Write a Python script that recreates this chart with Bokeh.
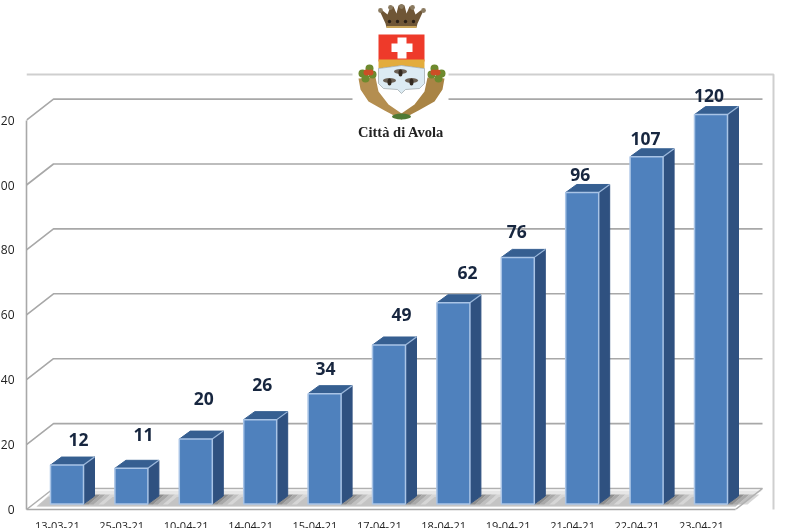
from bokeh.plotting import figure
from bokeh.models import Range1d, LinearAxis, FixedTicker
from bokeh.core.properties import value
from bokeh.embed import file_html
from bokeh.resources import INLINE

dates = ["13-03-21", "25-03-21", "10-04-21", "14-04-21", "15-04-21", "17-04-21",
         "18-04-21", "19-04-21", "21-04-21", "22-04-21", "23-04-21"]
cases = [12, 11, 20, 26, 34, 49, 62, 76, 96, 107, 120]
y_ticks = [0, 20, 40, 60, 80, 100, 120]

# per-label placement nudges, in pixels, as the source places them by hand
label_dx = [11.5, 12, 8, 2, 1, 12.5, 14, -1, -2, -1, -2]
label_dy = [25.6, 34, 40.6, 35, 25, 30.5, 30, 26, 18, 18, 19]

# pixel geometry of the page
AX_L, AX_B, W, H = 26, 510, 785, 528
PANEL_L, PANEL_B = 40, 30
PX_PER_UNIT = 3.245
STEP, X0, BAR_W = 64.4, 66.5, 33
BASE = 5.5          # bars stand this many pixels above the axis line
DX, DY = 11, 8      # bar depth
WX, WY = 27, 21     # wall depth
DATE_SHIFT = 0.15   # date labels sit a little left of their bars


def xd(px):
    return (px - X0) / STEP


def yd(px):
    return (AX_B - px) / PX_PER_UNIT


p = figure(frame_width=W - AX_L, frame_height=AX_B, output_backend="svg", toolbar_location=None,
           x_range=Range1d(xd(AX_L), xd(W)), y_range=Range1d(0, yd(0)),
           x_axis_type=None, y_axis_type=None,
           min_border_left=PANEL_L, min_border_right=0, min_border_top=0, min_border_bottom=PANEL_B,
           outline_line_color=None, background_fill_color="white", border_fill_color="white",
           styles={"position": "fixed", "left": "-14px", "top": "-1px"})
p.grid.visible = False
p.extra_x_ranges["px"] = Range1d(AX_L, W)
p.extra_y_ranges["py"] = Range1d(AX_B, 0)
PXK = dict(x_range_name="px", y_range_name="py")

# chart border
p.line([AX_L, 773, 773], [75, 75, 528], line_color="#cfcfcf", line_width=2, **PXK)

# floor
floor_xs = [AX_L + 10, AX_L + WX, 762, 735]
floor_ys = [507, 491, 491, 507]
p.patch(floor_xs, floor_ys, fill_color="#e6e6e6", line_color=None, **PXK)
p.patch([AX_L + 10, AX_L + 22, 747, 735], [507, 497, 497, 507], fill_color="#c4c4c4", line_color=None, **PXK)
for i in range(len(cases)):
    bx = X0 + STEP * i + BAR_W / 2
    for k, c in enumerate(["#8f8f8f", "#a8a8a8", "#c0c0c0", "#d6d6d6"]):
        p.patch([bx + 5 * k, bx + 5 * k + 5, bx + 5 * k + 17, bx + 5 * k + 12],
                [505, 505, 495, 495], fill_color=c, line_color=None, **PXK)
# floor outline
p.line([AX_L, AX_L + WX, 762, 735], [AX_B, AX_B - WY, AX_B - WY, AX_B],
       line_color="#b0b0b0", line_width=1.5, **PXK)

# back wall gridlines
for t in y_ticks[1:]:
    p.line([xd(AX_L), xd(AX_L + WX), xd(762)], [t, t + WY / PX_PER_UNIT, t + WY / PX_PER_UNIT],
           line_color="#a8a8a8", line_width=1.6)

# white panel behind the crest
p.quad(left=[352], right=[448], top=[0], bottom=[125], fill_color="white", line_color=None, **PXK)

# 3D bars
base = BASE / PX_PER_UNIT
half = BAR_W / 2 / STEP
ddx, ddy = DX / STEP, DY / PX_PER_UNIT
for i, v in enumerate(cases):
    top = v + base
    l, r = i - half, i + half
    p.patch([r, r + ddx, r + ddx, r], [base, base + ddy, top + ddy, top],
            fill_color="#2f5180", line_color="#2f5180")
    p.patch([l, r, r + ddx, l + ddx], [top, top, top + ddy, top + ddy],
            fill_color="#365f91", line_color="#365f91")
    p.line([r, r + ddx], [top, top + ddy], line_color="#9db9dc", line_width=1.2)
p.vbar(x=list(range(len(cases))), width=BAR_W / STEP, bottom=base, top=[v + base for v in cases],
       fill_color="#4f81bd", line_color="#a9c4e6", line_width=1.5)

# value labels
p.text(x=[i + dx / STEP for i, dx in enumerate(label_dx)],
       y=[v + base + dy / PX_PER_UNIT for v, dy in zip(cases, label_dy)],
       text=[str(v) for v in cases], text_align="center", text_baseline="middle",
       text_font=value("Open Sans"), text_font_style="bold", text_font_size="17.5px",
       text_color="#17263f")

# crest
SH = dict(line_color=None, **PXK)
p.patch([378, 424, 424, 401, 378], [35, 35, 62, 62, 62], fill_color="#ee3a2a", **SH)
p.patch([378, 424, 424, 401, 378], [60, 60, 69, 66, 69], fill_color="#e3ac3c", **SH)
p.patch([378, 401, 424, 424, 419, 405, 401, 397, 383, 378], [69, 66, 69, 84, 89, 90, 94, 90, 89, 84],
        fill_color="#dcebf3", line_color="#9aa4a8", line_width=0.7, **PXK)
p.quad(left=[397, 391], right=[406, 412], top=[38, 44], bottom=[59, 52.5], fill_color="white", **SH)
for bx, by in [(400, 72), (389, 81), (411, 81)]:
    p.ellipse([bx], [by], width=13, height=5, fill_color="#6a6054", **SH)
    p.ellipse([bx], [by + 1.5], width=4, height=7, fill_color="#332a20", **SH)
# crown
p.patch([385, 379, 382, 387, 390, 393, 396, 398, 401, 404, 406, 409, 412, 415, 420, 423, 417, 416, 386],
        [24, 11, 11, 15, 7, 7, 14, 6, 5, 6, 14, 7, 7, 15, 11, 11, 24, 28, 28], fill_color="#6f5636", **SH)
p.circle([380, 390, 401, 412, 423], [11, 8, 7, 8, 11], radius=2.4, fill_color="#8a7a60", **SH)
p.circle([389, 397, 405, 413], [22, 22, 22, 22], radius=1.7, fill_color="#2b2016", **SH)
p.line([386, 416], [27.5, 27.5], line_color="#c9a55a", line_width=2, **PXK)
# cornucopiae
p.patch([358, 375, 378, 388, 404, 401, 384, 368, 360],
        [79, 78, 92, 105, 116, 120, 111, 102, 90], fill_color="#b48e50", **SH)
p.patch([444, 427, 424, 414, 398, 401, 418, 434, 442],
        [79, 78, 92, 105, 116, 120, 111, 102, 90], fill_color="#a98445", **SH)
p.circle([362, 369, 372, 365], [74, 69, 75, 79], radius=4, fill_color="#6e8a2e", **SH)
p.circle([366, 370], [73, 73], radius=3, fill_color="#cc4e26", **SH)
p.circle([441, 434, 431, 438], [74, 69, 75, 79], radius=4, fill_color="#6e8a2e", **SH)
p.circle([437, 433], [73, 73], radius=3, fill_color="#cc4e26", **SH)
p.ellipse([401], [117], width=19, height=6, fill_color="#4f7a35", **SH)
p.text([400.5], [132], text=["Città di Avola"], text_align="center", text_baseline="middle",
       text_font=value("Liberation Serif"), text_font_style="bold", text_font_size="14.5px",
       text_color="#222222", **PXK)

# axes
yax = LinearAxis(ticker=FixedTicker(ticks=y_ticks), bounds=(0, 120),
                 major_tick_line_color=None, minor_tick_line_color=None,
                 axis_line_color="#a8a8a8", axis_line_width=1.6,
                 major_label_standoff=6, major_label_text_font="Open Sans",
                 major_label_text_font_size="12px", major_label_text_color="#222222")
p.add_layout(yax, "left")
date_ticks = [i - DATE_SHIFT for i in range(len(dates))]
xax = LinearAxis(ticker=FixedTicker(ticks=date_ticks), bounds=(xd(AX_L), xd(735)),
                 major_label_overrides={t: d for t, d in zip(date_ticks, dates)},
                 major_tick_line_color=None, minor_tick_line_color=None,
                 axis_line_color="#a8a8a8", axis_line_width=1.6,
                 major_label_standoff=6, major_label_text_font="Open Sans",
                 major_label_text_font_size="11px", major_label_text_color="#222222")
p.add_layout(xax, "below")

open("out.html", "w").write(file_html(p, INLINE))
